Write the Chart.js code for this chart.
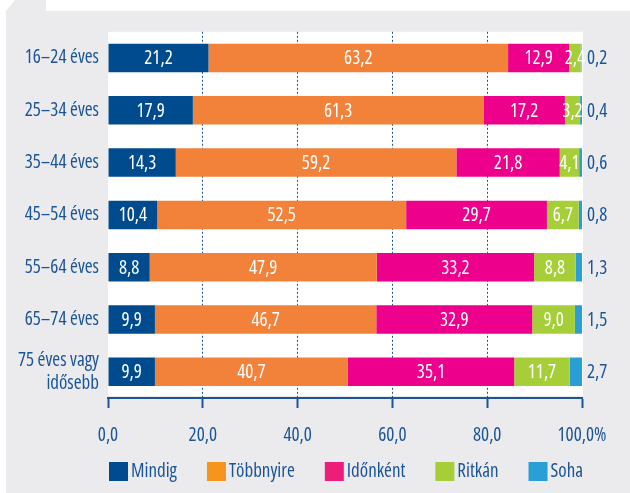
<!DOCTYPE html>
<html>
<head>
<meta charset="utf-8">
<script src="https://cdn.jsdelivr.net/npm/chart.js@4.4.1/dist/chart.umd.min.js"></script>
<style>
  html, body { margin: 0; padding: 0; background: #fff; }
  #doboz { width: 630px; height: 493px; }
</style>
</head>
<body>
<div id="doboz"><canvas id="grafikon" width="630" height="493"></canvas></div>
<script>
// ---------- adatok ----------
const korcsoportok = ["16–24 éves", "25–34 éves", "35–44 éves", "45–54 éves",
                      "55–64 éves", "65–74 éves", ["75 éves vagy", "idősebb"]];

const mindig     = [21.2, 17.9, 14.3, 10.4, 8.8, 9.9, 9.9];
const tobbnyire  = [63.2, 61.3, 59.2, 52.5, 47.9, 46.7, 40.7];
const idonkent   = [12.9, 17.2, 21.8, 29.7, 33.2, 32.9, 35.1];
const ritkan     = [2.4, 3.2, 4.1, 6.7, 8.8, 9.0, 11.7];
const soha       = [0.2, 0.4, 0.6, 0.8, 1.3, 1.5, 2.7];

const sorozatNevek = ["Mindig", "Többnyire", "Időnként", "Ritkán", "Soha"];
const xTickLabels  = ["0,0", "20,0", "40,0", "60,0", "80,0", "100,0%"];

// ---------- stílus ----------
const KEK = "#1c5596";
const SZURKE = "#ebebee";
const BETU = '"Open Sans", sans-serif';
// a "condensed" a font-stretch kulcsszó, a weight helyére csempészve
const SZELESSEG = "condensed";
const MERET = 19;
const szinek = ["#004b8d", "#f2823a", "#ec008c", "#a6ce39", "#2a9fd6"];
const legendSzinek = ["#004b8d", "#f7941d", "#ed1e79", "#a6ce39", "#2a9fd6"];

const betuString = "normal " + SZELESSEG + " " + MERET + "px " + BETU;
const szam = v => v.toFixed(1).replace(".", ",");

// háttér + fehér rajzterület
const hatter = {
    id: "hatter",
    beforeDraw(chart) {
        const { ctx, chartArea: a } = chart;
        ctx.save();
        ctx.fillStyle = "#fff";
        ctx.fillRect(0, 0, chart.width, chart.height);
        ctx.fillStyle = SZURKE;
        ctx.beginPath();
        ctx.moveTo(6, chart.height);
        ctx.lineTo(6, 11);
        ctx.lineTo(15, 0);
        ctx.lineTo(46, 0);
        ctx.lineTo(46, 11);
        ctx.lineTo(chart.width, 11);
        ctx.lineTo(chart.width, chart.height);
        ctx.closePath();
        ctx.fill();
        ctx.fillStyle = "#fff";
        ctx.fillRect(a.left, a.top, a.right - a.left + 1, a.bottom - a.top - 2);
        ctx.restore();
    }
};

// értékcímkék
const cimkek = {
    id: "cimkek",
    afterDatasetsDraw(chart) {
        const { ctx, chartArea: a } = chart;
        const utolso = chart.data.datasets.length - 1;
        ctx.save();
        ctx.font = betuString;
        ctx.textBaseline = "middle";
        chart.data.datasets.forEach((ds, i) => {
            const meta = chart.getDatasetMeta(i);
            meta.data.forEach((bar, j) => {
                const txt = szam(ds.data[j]);
                if (i === utolso) {
                    ctx.fillStyle = KEK;
                    ctx.textAlign = "left";
                    ctx.fillText(txt, a.right + 5, bar.y + 1);
                } else {
                    ctx.fillStyle = "#fff";
                    ctx.textAlign = "center";
                    ctx.fillText(txt, (bar.x + bar.base) / 2, bar.y + 1);
                }
            });
        });
        ctx.restore();
    }
};

// jelmagyarázat
const jelmagyarazat = {
    id: "jelmagyarazat",
    afterDraw(chart) {
        const { ctx, chartArea: a } = chart;
        const y = chart.height - 31;
        let x = a.left + 1;
        ctx.save();
        ctx.font = betuString;
        ctx.textBaseline = "middle";
        ctx.textAlign = "left";
        chart.data.datasets.forEach((ds, i) => {
            ctx.fillStyle = legendSzinek[i];
            ctx.fillRect(x, y, 19, 19);
            ctx.fillStyle = KEK;
            ctx.fillText(ds.label, x + 22, y + 10);
            x += 22 + ctx.measureText(ds.label).width + 30;
        });
        ctx.restore();
    }
};

const adatsorok = [mindig, tobbnyire, idonkent, ritkan, soha];

new Chart(document.getElementById("grafikon"), {
    type: "bar",
    data: {
        labels: korcsoportok,
        datasets: adatsorok.map((d, i) => ({
            label: sorozatNevek[i],
            data: d,
            backgroundColor: szinek[i],
            borderWidth: 0,
            categoryPercentage: 1,
            barPercentage: 0.545
        }))
    },
    options: {
        indexAxis: "y",
        responsive: false,
        animation: false,
        layout: { padding: { top: 25, right: 48, left: 0, bottom: 0 } },
        scales: {
            x: {
                stacked: true,
                min: 0,
                max: 100,
                afterFit(scale) { scale.height = 95; },
                afterBuildTicks(scale) {
                    scale.ticks = xTickLabels.map((t, i) => ({ value: i * 20 }));
                },
                ticks: {
                    color: KEK,
                    font: { family: BETU, size: MERET, weight: SZELESSEG },
                    padding: 16,
                    maxRotation: 0,
                    callback: (v, i) => xTickLabels[i]
                },
                grid: {
                    color: c => (c.tick && (c.tick.value === 0 || c.tick.value === 100)) ? "rgba(0,0,0,0)" : KEK,
                    lineWidth: 1,
                    tickColor: KEK,
                    tickWidth: 2,
                    tickLength: 10
                },
                border: { color: KEK, width: 2, dash: [2, 2] }
            },
            y: {
                stacked: true,
                afterFit(scale) { scale.width = 108; },
                ticks: {
                    color: KEK,
                    font: { family: BETU, size: MERET, weight: SZELESSEG, lineHeight: 1.2 },
                    padding: 9
                },
                grid: { display: false, drawTicks: false },
                border: { display: false }
            }
        },
        plugins: {
            legend: { display: false },
            tooltip: { enabled: false }
        }
    },
    plugins: [hatter, cimkek, jelmagyarazat]
});
</script>
</body>
</html>
